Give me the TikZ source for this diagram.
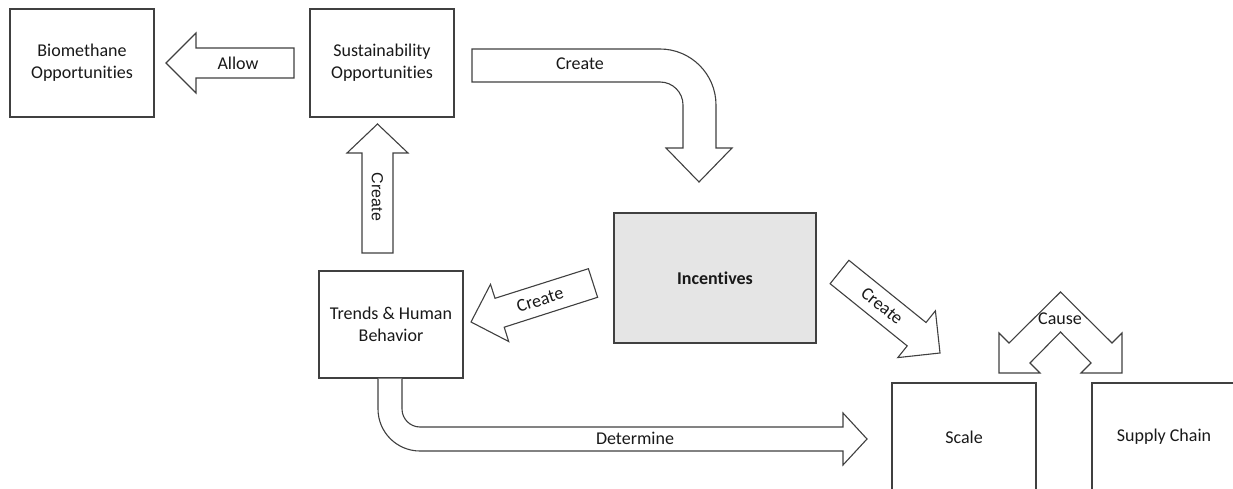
\documentclass[tikz,border=0pt]{standalone}
\usepackage{fontspec}
\setmainfont{Carlito}[Ligatures=NoCommon]
\newfontfamily\arialfont{Liberation Sans}
\begin{document}
\begin{tikzpicture}[x=1pt,y=-1pt,
  every node/.style={font=\fontsize{18}{22}\selectfont, text=black!90},
  box/.style={draw=black!75, line width=1.2pt, fill=white, align=center, inner sep=0pt},
  blockarrow/.style={draw=black!75, line width=1.1pt, fill=white, line join=miter},
  lbl/.style={inner sep=0pt}]
\useasboundingbox (0,0) rectangle (1233,489);
\clip (0,0) rectangle (1233,489);

% boxes
\node[box, minimum width=144pt, minimum height=108pt] (bio) at (82,63) {Biomethane\\Opportunities};
\node[box, minimum width=144pt, minimum height=108pt] (sus) at (382,63) {Sustainability\\Opportunities};
\node[box, minimum width=144pt, minimum height=107pt] (trends) at (391,324.5) {Trends \& Human\\Behavior};
\node[box, fill=black!10, minimum width=202pt, minimum height=130pt] (inc) at (715,278) {\textbf{Incentives}};
\node[box, minimum width=144pt, minimum height=108pt] (scale) at (964,437) {Scale};
\node[box, minimum width=144pt, minimum height=108pt] (supply) at (1164,437) {Supply Chain};

% Allow: sustainability -> biomethane
\draw[blockarrow] (294,48) -- (196,48) -- (196,33) -- (166,63) -- (196,93) -- (196,78) -- (294,78) -- cycle;
\node[lbl] (allow) at (238,63) {Allow};

% Create: sustainability -> incentives (bent arrow)
\draw[blockarrow] (472,49) -- (660,49) .. controls (690.9,49) and (716,74.1) .. (716,105)
  -- (716,148) -- (732,148) -- (699,182) -- (666,148) -- (683,148) -- (683,105)
  .. controls (683,92.3) and (672.7,82) .. (660,82) -- (472,82) -- cycle;
\node[lbl] (create1) at (580,64) {Create};

% Create: trends -> sustainability
\draw[blockarrow] (362,253) -- (362,153) -- (347,153) -- (377.5,124) -- (408,153) -- (393,153) -- (393,253) -- cycle;
\node[lbl, rotate=-90, font=\arialfont\fontsize{16}{19}\selectfont] (create2) at (377.5,197) {Create};

% Create: incentives -> trends
\draw[blockarrow] (588.4,268.7) -- (495.0,298.3) -- (490.5,284.3) -- (471,322) -- (508.7,341.5) -- (504.2,327.2) -- (597.6,297.3) -- cycle;
\node[lbl, rotate=17.7] (create3) at (540,300) {Create};

% Create: incentives -> scale
\draw[blockarrow] (830.1,283.7) -- (848.9,260.3) -- (926.0,322.5) -- (935.4,310.8) -- (940,353) -- (897.8,357.6) -- (907.2,345.9) -- cycle;
\node[lbl, rotate=-38.9] (create4) at (882,306) {Create};

% Cause: scale <-> supply chain
\draw[blockarrow] (999,373) -- (999,333) -- (1009,343) -- (1060.5,292) -- (1112,343) -- (1122,333)
  -- (1122,373) -- (1081,373) -- (1091,363) -- (1060.5,332) -- (1030,363) -- (1040,373) -- cycle;
\node[lbl] (cause) at (1060,319) {Cause};

% Determine: trends -> scale
\draw[blockarrow] (378,378.5) -- (378,409) .. controls (378,432.2) and (396.8,451) .. (420,451)
  -- (843,451) -- (843,465) -- (867,439) -- (843,413) -- (843,427) -- (420,427)
  .. controls (410.1,427) and (402,418.9) .. (402,409) -- (402,378.5);
\node[lbl] (determine) at (635,438) {Determine};
\end{tikzpicture}
\end{document}
